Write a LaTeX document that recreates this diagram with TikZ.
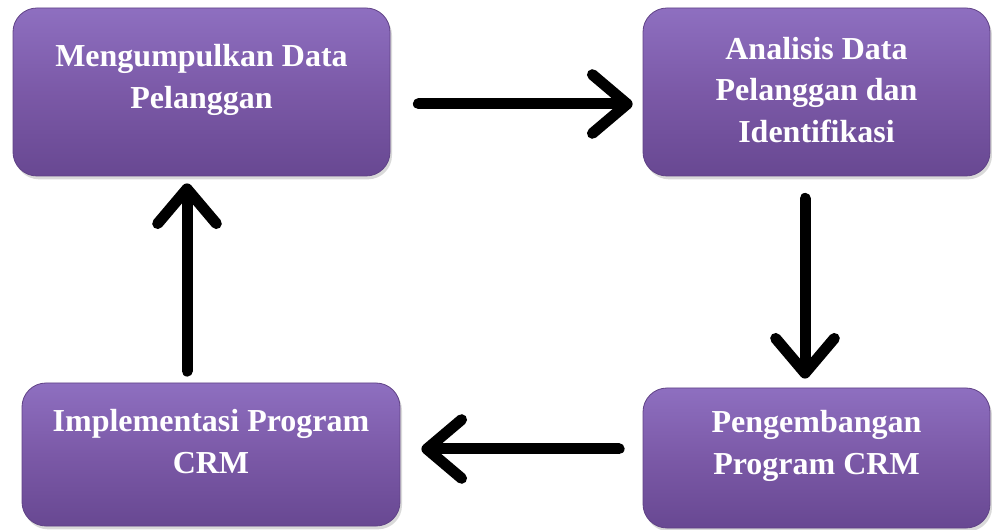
\documentclass[tikz,border=0pt]{standalone}
\usepackage{fontspec}
\setmainfont{Liberation Serif}
\usetikzlibrary{arrows.meta,calc,shadows}
\definecolor{cTop}  {RGB}{142,111,192}
\definecolor{cMid}  {RGB}{123,89,167}
\definecolor{cBot}  {RGB}{104,72,146}
\definecolor{cEdge} {RGB}{96,66,134}

\begin{document}
\begin{tikzpicture}[
  x=0.75pt,y=-0.75pt,
  stage/.style={rounded corners=18pt,draw=cEdge,line width=0.6pt,
                top color=cTop,bottom color=cBot,middle color=cMid,
                drop shadow={shadow xshift=1.5pt,shadow yshift=-2.5pt,opacity=0.3},
                inner sep=0pt},
  caption/.style={align=center,text=white,
                  font=\fontsize{24}{31}\selectfont\bfseries},
  flow/.style={line width=8.25pt,line cap=round,
               -{Straight Barb[length=26pt,width=44pt,line join=round,line cap=round]}},
]
\useasboundingbox (0,0) rectangle (992,530);

\node[stage,minimum width=282.75pt,minimum height=126pt]    (collect) at (201.5,92)  {};
\node[stage,minimum width=260.25pt,minimum height=126pt]    (analyse) at (816.5,92)  {};
\node[stage,minimum width=260.25pt,minimum height=105pt]    (develop) at (816.5,458) {};
\node[stage,minimum width=283.5pt,minimum height=107.25pt]  (apply)   at (211,454.5) {};

\node[caption] (collect-txt) at ($(collect.center)+(0,-12)$) {Mengumpulkan Data\\Pelanggan};
\node[caption] (analyse-txt) at ($(analyse.center)+(0,-2)$)  {Analisis Data\\Pelanggan dan\\Identifikasi};
\node[caption] (develop-txt) at ($(develop.center)+(0,-12)$) {Pengembangan\\Program CRM};
\node[caption] (apply-txt)   at ($(apply.center)+(0,-13)$)   {Implementasi Program\\CRM};

\draw[flow] ($(collect.east)+(28,12)$)    -- ($(analyse.west)+(-10,12)$);
\draw[flow] ($(analyse.south)+(-11.5,22)$) -- ($(develop.north)+(-11.5,-9)$);
\draw[flow] ($(develop.west)+(-23.5,-9)$) -- ($(apply.east)+(21,-5.5)$);
\draw[flow] ($(apply.north)+(-24,-11.5)$) -- ($(collect.south)+(-14.5,7)$);
\end{tikzpicture}
\end{document}
